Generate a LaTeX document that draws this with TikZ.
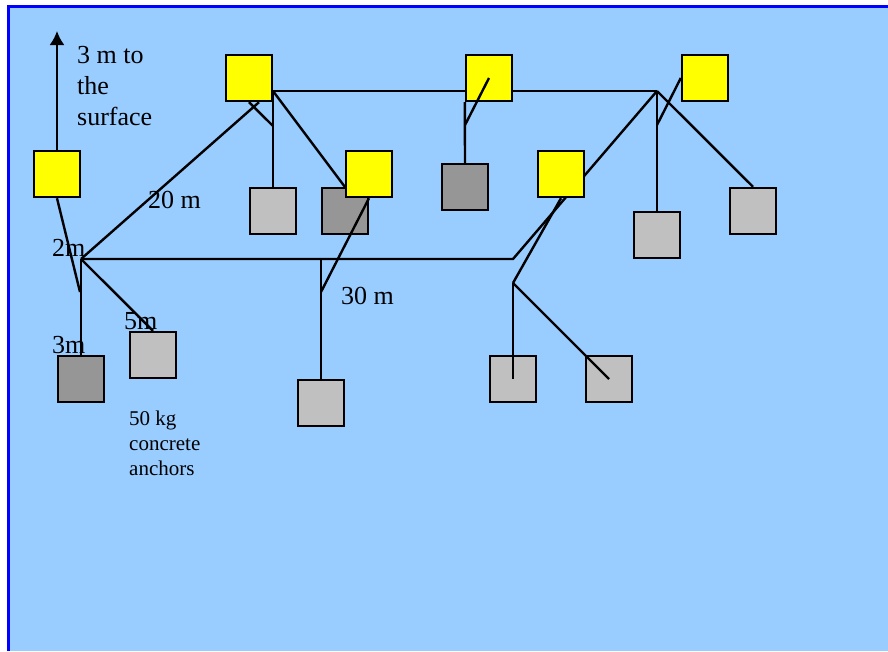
\documentclass[tikz,border=0pt]{standalone}
\usepackage{fontspec}
\setmainfont{Liberation Serif}
\usepackage{xcolor}
\usepackage{tikz}
\usetikzlibrary{arrows.meta, positioning}

\definecolor{seablue}{HTML}{99CCFF}
\definecolor{buoyyellow}{HTML}{FFFF00}
\definecolor{lightblock}{HTML}{C0C0C0}
\definecolor{darkblock}{HTML}{969696}

\begin{document}
\begin{tikzpicture}[x=1pt, y=-1pt]
    % Define styles
    \tikzstyle{buoy}=[rectangle, draw=black, fill=buoyyellow, line width=2.4pt, inner sep=0pt, minimum size=46pt]
    \tikzstyle{block}=[rectangle, draw=black, fill=lightblock, line width=2.4pt, inner sep=0pt, minimum size=46pt]
    \tikzstyle{dark block}=[block, fill=darkblock]
    \tikzstyle{rope} = [draw=black, line width=2.4pt]
    \tikzstyle{label} = [inner sep=0pt, anchor=base west, font=\fontsize{26}{31}\selectfont]
    \tikzstyle{small label} = [inner sep=0pt, anchor=base west, align=left, font=\fontsize{21}{25}\selectfont]

    % Background
    \useasboundingbox (0,0) rectangle (888,651);
    \fill[white] (0,0) rectangle (888,651);
    \fill[seablue] (8,6) rectangle (888,651);
    \draw[blue, line width=3pt] (8,651) -- (8,6) -- (888,6);

    % Knots on the ropes
    \coordinate (j1) at (81,259);
    \coordinate (j2) at (657,91);
    \coordinate (k1) at (513,259);
    \coordinate (k2) at (321,259);
    \coordinate (k3) at (321,292);
    \coordinate (k4) at (513,283);
    \coordinate (k5) at (273,91);
    \coordinate (k6) at (273,126);
    \coordinate (k7) at (465,125);
    \coordinate (k8) at (657,125);
    \coordinate (k9) at (80,292);
    \coordinate (surf) at (57,31);

    % Place the buoys and blocks (without drawing yet)
    \foreach \name/\x/\y in {b1/57/174, b2/249/78, b3/369/174, b4/489/78, b5/561/174, b6/705/78}
        \path (\x,\y) node[buoy, draw=none, fill=none] (\name) {};
    \foreach \name/\x/\y in {w1/273/211, w2/153/355, w3/321/403, w4/513/379, w5/609/379, w6/657/235, w7/753/211, d1/81/379, d2/345/211, d3/465/187}
        \path (\x,\y) node[block, draw=none, fill=none] (\name) {};

    % Draw the ropes behind
    \draw[rope, -{Latex[length=14pt, width=15pt]}] (b1.north) -- (surf);
    \draw[rope] (k5) -- (j2);
    \draw[rope] (j1) -- (k1) -- (j2);
    \draw[rope] (j1) -- ([xshift=10pt]b2.south);
    \draw[rope] (b1.south) -- (k9);
    \draw[rope] (j1) -- (d1.north);
    \draw[rope] (j1) -- (w2.north);
    \draw[rope] (k5) -- (b3.west |- d2.north);
    \draw[rope] (k5) -- (w1.north);
    \draw[rope] (b2.south) -- (k6);
    \draw[rope] (k2) -- (w3.north);
    \draw[rope] (b4.south west) -- (d3.north);
    \draw[rope] (b5.south) -- (k4);
    \draw[rope] (j2) -- (w6.north);
    \draw[rope] (j2) -- (w7.north);

    % Draw the blocks
    \foreach \name in {w1,w2,w3,w4,w5,w6,w7}
        \node[block] at (\name) {};
    \foreach \name in {d1,d2,d3}
        \node[dark block] at (\name) {};

    % Draw the buoys
    \foreach \name in {b1,b2,b3,b4,b5,b6}
        \node[buoy] at (\name) {};

    % Ropes in front
    \draw[rope] (b3.south) -- (k3);
    \draw[rope] (b4.center) -- (k7);
    \draw[rope] (k4) -- (w4.center);
    \draw[rope] (k4) -- (w5.center);
    \draw[rope] (b6.west) -- (k8);

    % Labels
    \node[label, align=left] (surface) at (77,125) {3 m to\\the\\surface};
    \node[label] (len20) at (148,208) {20 m};
    \node[label] (len30) at (341,304) {30 m};
    \node[label] (len2) at (52,256) {2m};
    \node[label] (len5) at (124,329) {5m};
    \node[label] (len3) at (52,353) {3m};
    \node[small label] (weights) at (129,475) {50 kg\\concrete\\anchors};

\end{tikzpicture}
\end{document}
